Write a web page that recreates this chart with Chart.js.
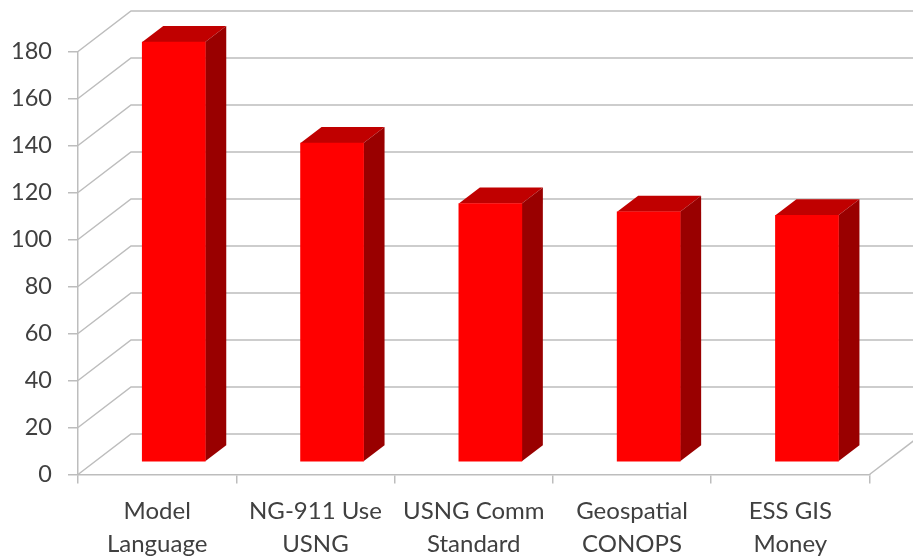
<!DOCTYPE html>
<html>
<head>
<meta charset="utf-8">
<title>Bar chart</title>
<script src="https://cdn.jsdelivr.net/npm/chart.js@4"></script>
<style>
html, body { margin: 0; padding: 0; background: #fff; }
#wrap { width: 913px; height: 556px; }
</style>
</head>
<body>
<div id="wrap"><canvas id="bars" width="913" height="556"></canvas></div>
<script>
const categories = [['Model', 'Language'], ['NG-911 Use', 'USNG'], ['USNG Comm', 'Standard'], ['Geospatial', 'CONOPS'], ['ESS GIS', 'Money']];
const votes = [178.7, 135.7, 110, 106.5, 105];

const gridColor = '#bdbdbd';
const textColor = '#404040';

// oblique projection of the 3d look
const wallDx = 53, wallDy = -40.5;
const barShiftX = 16.6, barShiftY = -12.5;
const barDepthX = 21, barDepthY = -16;

function poly(ctx, pts, fill) {
    ctx.beginPath();
    ctx.moveTo(pts[0][0], pts[0][1]);
    for (let i = 1; i < pts.length; i++) ctx.lineTo(pts[i][0], pts[i][1]);
    ctx.closePath();
    ctx.fillStyle = fill;
    ctx.fill();
}

const wallsPlugin = {
    id: 'walls',
    beforeDatasetsDraw(chart) {
        const { ctx, scales: { x, y } } = chart;
        const left = x.left, right = x.right;
        ctx.save();
        ctx.strokeStyle = gridColor;
        ctx.lineWidth = 1.5;
        y.ticks.forEach((t) => {
            const py = y.getPixelForValue(t.value);
            ctx.beginPath();
            ctx.moveTo(left, py);
            ctx.lineTo(left + wallDx, py + wallDy);
            ctx.lineTo(right + wallDx, py + wallDy);
            ctx.stroke();
        });
        // right edge of the floor
        const py0 = y.getPixelForValue(0);
        ctx.beginPath();
        ctx.moveTo(right, py0);
        ctx.lineTo(right + wallDx, py0 + wallDy);
        ctx.stroke();
        ctx.restore();
    }
};

const barDepthPlugin = {
    id: 'barDepth',
    beforeDatasetDraw(chart, args) {
        const ctx = chart.ctx;
        ctx.save();
        ctx.translate(barShiftX, barShiftY);
        args.meta.data.forEach((bar) => {
            const l = bar.x - bar.width / 2, r = bar.x + bar.width / 2;
            const top = bar.y, base = bar.base;
            poly(ctx, [[l, top], [r, top], [r + barDepthX, top + barDepthY], [l + barDepthX, top + barDepthY]], '#c00000');
            poly(ctx, [[r, top], [r + barDepthX, top + barDepthY], [r + barDepthX, base + barDepthY], [r, base]], '#990000');
        });
    },
    afterDatasetDraw(chart) {
        chart.ctx.restore();
    }
};

new Chart(document.getElementById('bars').getContext('2d'), {
    type: 'bar',
    plugins: [wallsPlugin, barDepthPlugin],
    data: {
        labels: categories,
        datasets: [{
            data: votes,
            backgroundColor: '#ff0000',
            borderWidth: 0,
            barThickness: 63,
            clip: false
        }]
    },
    options: {
        responsive: false,
        animation: false,
        layout: { padding: { top: 51.5, right: 43.5, left: 0, bottom: 0 } },
        plugins: { legend: { display: false }, tooltip: { enabled: false } },
        scales: {
            x: {
                afterFit(scale) { scale.height = 81.5; },
                border: { color: gridColor, width: 1.5 },
                grid: { drawOnChartArea: false, offset: true, color: gridColor, lineWidth: 1.5, tickLength: 9 },
                ticks: {
                    color: textColor,
                    padding: 11,
                    maxRotation: 0,
                    autoSkip: false,
                    font: { family: 'Lato', size: 24, lineHeight: 1.38 }
                }
            },
            y: {
                min: 0,
                max: 180,
                afterFit(scale) { scale.width = 78; },
                border: { color: gridColor, width: 1.5 },
                grid: { drawOnChartArea: false, color: gridColor, lineWidth: 1.5, tickLength: 10 },
                ticks: {
                    stepSize: 20,
                    color: textColor,
                    padding: 16,
                    font: { family: 'Lato', size: 23.5 }
                }
            }
        }
    }
});
</script>
</body>
</html>
